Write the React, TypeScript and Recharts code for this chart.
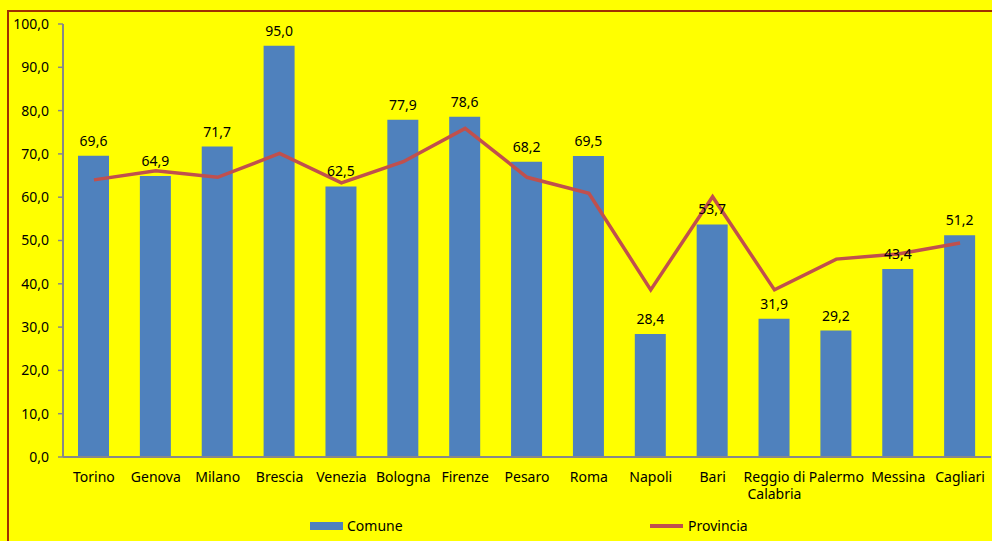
import React from "react";
import {
  ComposedChart,
  Bar,
  Line,
  XAxis,
  YAxis,
  LabelList,
  Legend,
} from "recharts";

const categories = [
  "Torino",
  "Genova",
  "Milano",
  "Brescia",
  "Venezia",
  "Bologna",
  "Firenze",
  "Pesaro",
  "Roma",
  "Napoli",
  "Bari",
  "Reggio di Calabria",
  "Palermo",
  "Messina",
  "Cagliari",
];
const comune = [69.6, 64.9, 71.7, 95.0, 62.5, 77.9, 78.6, 68.2, 69.5, 28.4, 53.7, 31.9, 29.2, 43.4, 51.2];
const provincia = [64.0, 66.1, 64.6, 70.1, 63.3, 68.2, 75.9, 64.6, 60.9, 38.6, 60.1, 38.6, 45.7, 46.9, 49.4];
const yTicks = [0, 10, 20, 30, 40, 50, 60, 70, 80, 90, 100];
const boundaryTicks = [0, 1, 2, 3, 4, 5, 6, 7, 8, 9, 10, 11, 12, 13, 14, 15];

const data = categories.map((name, i) => ({
  name,
  Comune: comune[i],
  Provincia: provincia[i],
}));

const FONT = "'Noto Sans', sans-serif";
const fmt = (v: any) => Number(v).toFixed(1).replace(".", ",");

const splitLabel = (s: string): string[] => {
  if (s.length > 12) {
    const idx = s.lastIndexOf(" ");
    return [s.slice(0, idx), s.slice(idx + 1)];
  }
  return [s];
};

const CategoryTick = (props: any) => {
  const { x, y, payload } = props;
  const lines = splitLabel(String(payload.value));
  return (
    <g transform={`translate(${x},${y})`}>
      <text textAnchor="middle" fill="#000" fontSize={14} fontFamily={FONT}>
        {lines.map((l, i) => (
          <tspan key={i} x={0} dy={i === 0 ? "0.71em" : "1.25em"}>
            {l}
          </tspan>
        ))}
      </text>
    </g>
  );
};

const LegendContent = (props: any) => {
  const payload = props.payload || [];
  return (
    <div style={{ display: "flex", paddingLeft: 310, fontFamily: FONT, fontSize: 14, color: "#000" }}>
      {payload.map((p: any, i: number) => (
        <div key={i} style={{ display: "flex", alignItems: "center", width: 340 }}>
          {p.type === "line" ? (
            <div style={{ width: 33, height: 4, background: p.color, marginRight: 5 }} />
          ) : (
            <div style={{ width: 33, height: 8, background: p.color, marginRight: 4 }} />
          )}
          <span>{p.value}</span>
        </div>
      ))}
    </div>
  );
};

export default function App() {
  return (
    <div
      style={{
        position: "absolute",
        left: 0,
        top: 0,
        width: 992,
        height: 541,
        background: "#FFFF00",
        overflow: "hidden",
      }}
    >
      <div
        style={{
          position: "absolute",
          left: 7,
          top: 10,
          width: 1100,
          height: 700,
          borderLeft: "2px solid #A03000",
          borderTop: "2px solid #A03000",
        }}
      />
      <div style={{ position: "absolute", left: 0, top: 0 }}>
        <ComposedChart
          width={992}
          height={541}
          data={data}
          margin={{ top: 24, right: 1, left: 0, bottom: 0 }}
          barCategoryGap={0}
        >
          <XAxis
            xAxisId="grid"
            type="number"
            domain={[0, 15]}
            ticks={boundaryTicks}
            tick={false}
            tickLine={{ stroke: "#888888", strokeWidth: 1.5 }}
            tickSize={5}
            axisLine={false}
            height={0}
            allowDataOverflow
          />
          <XAxis
            dataKey="name"
            interval={0}
            height={84}
            tickLine={false}
            tickSize={5}
            tickMargin={10}
            axisLine={{ stroke: "#888888", strokeWidth: 2 }}
            tick={<CategoryTick />}
          />
          <YAxis
            width={63}
            domain={[0, 100]}
            ticks={yTicks}
            interval={0}
            tickFormatter={fmt}
            tickSize={5}
            tickMargin={9}
            tickLine={{ stroke: "#888888", strokeWidth: 1.5 }}
            axisLine={{ stroke: "#888888", strokeWidth: 2 }}
            tick={{ fill: "#000", fontSize: 14, fontFamily: FONT }}
          />
          <Bar dataKey="Comune" fill="#4F81BD" barSize={31} isAnimationActive={false}>
            <LabelList
              dataKey="Comune"
              position="top"
              offset={10}
              formatter={fmt}
              style={{ fill: "#000", fontSize: 14, fontFamily: FONT }}
            />
          </Bar>
          <Line
            type="linear"
            dataKey="Provincia"
            stroke="#C0504D"
            strokeWidth={3.5}
            dot={false}
            activeDot={false}
            isAnimationActive={false}
          />
          <Legend
            verticalAlign="middle"
            layout="horizontal"
            wrapperStyle={{ top: 516, left: 0, width: 992 }}
            content={<LegendContent />}
          />
        </ComposedChart>
      </div>
    </div>
  );
}
